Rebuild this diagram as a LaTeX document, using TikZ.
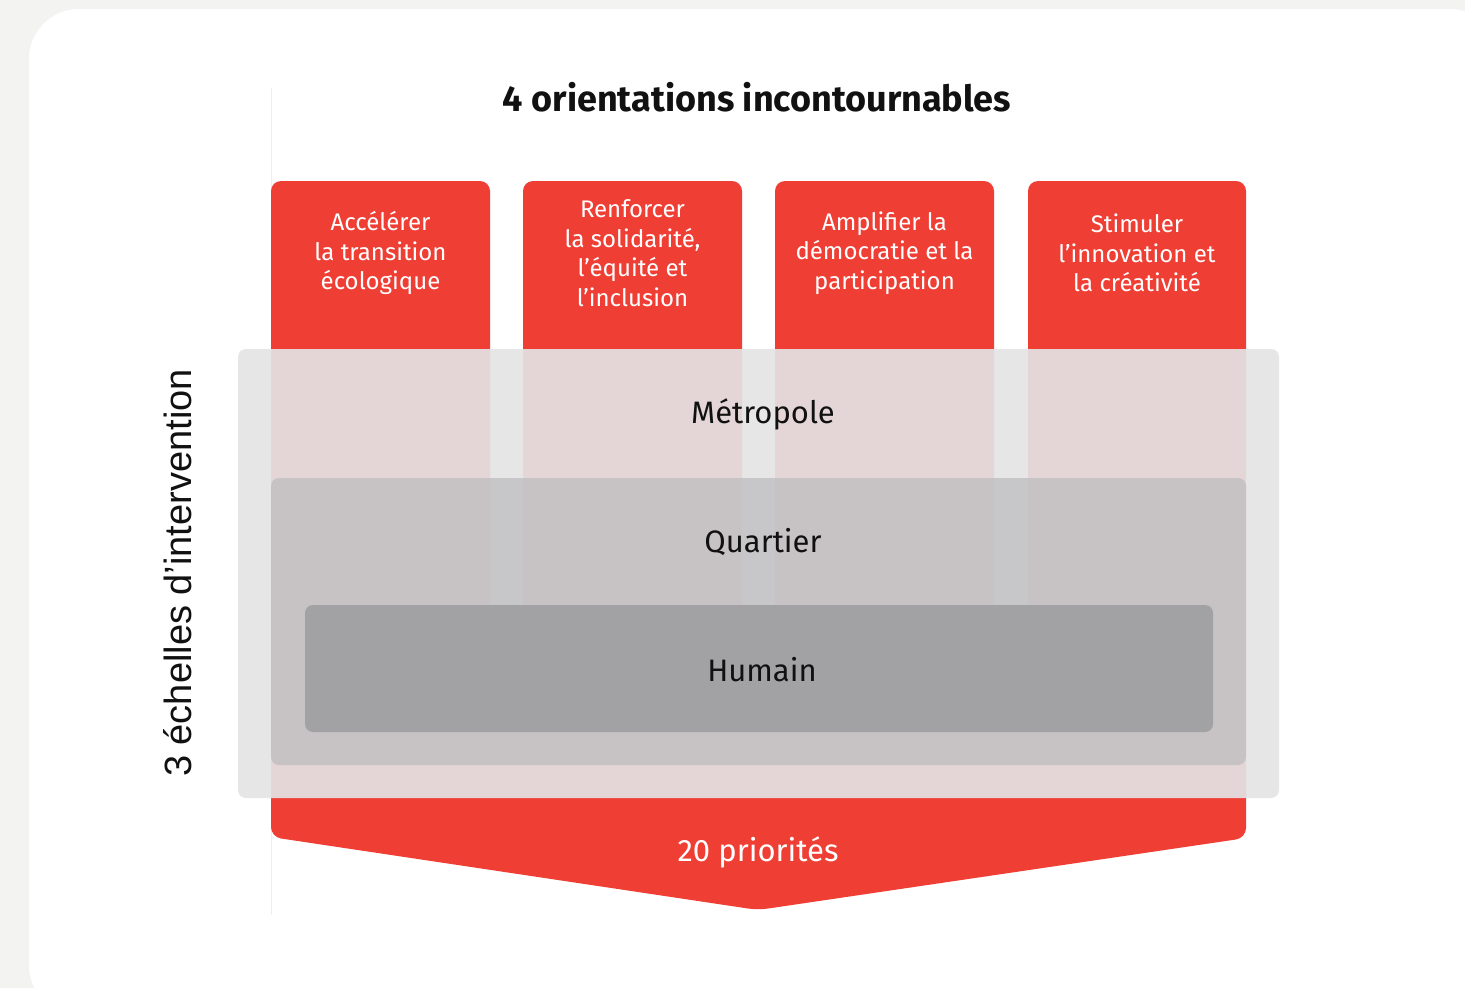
\documentclass[tikz,border=0pt]{standalone}
\usepackage{fontspec}
\setmainfont{Fira Sans}
\newfontfamily\arialfont{Liberation Sans}
\definecolor{bgout}{RGB}{243,244,242}
\definecolor{redc}{RGB}{239,62,52}
\definecolor{ovl}{RGB}{228,228,229}
\definecolor{qcol}{RGB}{186,186,188}
\definecolor{hcol}{RGB}{158,158,160}
\definecolor{txt}{RGB}{17,17,17}
\definecolor{faint}{RGB}{238,238,238}
\tikzset{
  redcol/.style={fill=redc, rounded corners=10pt},
  boxtext/.style={text=white, align=center, font=\fontsize{24}{29.5}\selectfont},
  layerlabel/.style={text=txt, font=\fontsize{31}{35}\selectfont},
}
\begin{document}
\begin{tikzpicture}[x=1pt,y=-1pt]
\useasboundingbox (0,0) rectangle (1465,988);
\fill[bgout] (0,0) rectangle (1465,988);
\fill[white, rounded corners=50pt] (29,9) rectangle (1500,1015);
\draw[faint, line width=0.8pt] (271,88) -- (271,915);
% title
\node[text=txt, font=\fontsize{36}{40}\selectfont\bfseries] (title) at (757,97) {4 orientations incontournables};
% red columns
\fill[redcol] (271,181) rectangle (490,710);
\fill[redcol] (523,181) rectangle (742,710);
\fill[redcol] (775,181) rectangle (994,710);
\fill[redcol] (1028,181) rectangle (1246,710);
% arrow
\fill[redc, rounded corners=10pt] (271,690) -- (271,837) -- (758,910) -- (1246,838) -- (1246,690) -- cycle;
\node[boxtext] (o1) at (380.5,253) {Accélérer\\la transition\\écologique};
\node[boxtext] (o2) at (632.5,253) {Renforcer\\la solidarité,\\l’équité et\\l’inclusion};
\node[boxtext] (o3) at (884.5,253) {Amplifier la\\démocratie et la\\participation};
\node[boxtext] (o4) at (1137,253) {Stimuler\\l’innovation et\\la créativité};
% layers
\fill[ovl, fill opacity=0.92, rounded corners=8pt] (238,349) rectangle (1279,798);
\fill[qcol, fill opacity=0.69, rounded corners=8pt] (271,478) rectangle (1246,765);
\fill[hcol, fill opacity=0.9, rounded corners=8pt] (305,605) rectangle (1213,732);
\node[layerlabel] (metro) at (763,414) {Métropole};
\node[layerlabel] (quart) at (763,542) {Quartier};
\node[layerlabel] (hum) at (762,670) {Humain};
\node[text=white, font=\fontsize{31}{35}\selectfont] (prio) at (758,852) {20 priorités};
\node[rotate=90, text=txt, font=\arialfont\fontsize{38}{42}\selectfont] (echelles) at (178,573) {3 échelles d’intervention};
\end{tikzpicture}
\end{document}
